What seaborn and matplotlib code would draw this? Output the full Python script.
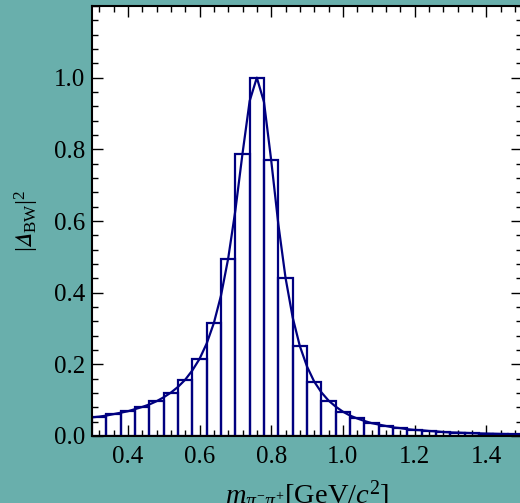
import numpy as np
import pandas as pd
import matplotlib
matplotlib.use("Agg")
import matplotlib.pyplot as plt
from matplotlib.ticker import MultipleLocator
import seaborn as sns

# histogram bins (GeV/c^2) and bar heights
bin_edges = [round(0.30 + 0.04 * i, 2) for i in range(31)]
bar_heights = [0.054, 0.061, 0.069, 0.081, 0.097, 0.121, 0.157, 0.215, 0.315, 0.495,
               0.788, 1.000, 0.770, 0.442, 0.251, 0.152, 0.099, 0.068, 0.049, 0.036,
               0.028, 0.022, 0.017, 0.014, 0.011, 0.0095, 0.008, 0.0068, 0.0058, 0.005]

# Breit-Wigner curve, sampled every 0.02
curve_mass = [round(0.30 + 0.02 * i, 2) for i in range(61)]
curve_value = [0.052, 0.054, 0.057, 0.061, 0.065, 0.069, 0.075, 0.081, 0.088, 0.097,
               0.108, 0.121, 0.137, 0.157, 0.183, 0.215, 0.258, 0.315, 0.392, 0.495,
               0.629, 0.788, 0.935, 1.000, 0.932, 0.770, 0.591, 0.442, 0.331, 0.251,
               0.194, 0.152, 0.122, 0.099, 0.082, 0.068, 0.057, 0.049, 0.042, 0.036,
               0.032, 0.028, 0.024, 0.022, 0.019, 0.017, 0.016, 0.014, 0.013, 0.011,
               0.010, 0.0095, 0.0087, 0.008, 0.0073, 0.0068, 0.0063, 0.0058, 0.0054, 0.005,
               0.0046]

centers = [(a + b) / 2 for a, b in zip(bin_edges[:-1], bin_edges[1:])]
bars = pd.DataFrame({"m": centers, "h": bar_heights})
curve = pd.DataFrame({"m": curve_mass, "v": curve_value})

sns.set_style("ticks")
plt.rcParams["font.family"] = ["Liberation Serif", "DejaVu Serif"]
plt.rcParams["mathtext.fontset"] = "custom"
plt.rcParams["mathtext.rm"] = "Liberation Serif"
plt.rcParams["mathtext.it"] = "Liberation Serif:italic"
plt.rcParams["mathtext.bf"] = "Liberation Serif:bold"
plt.rcParams["mathtext.fallback"] = "stix"
plt.rcParams["text.color"] = "black"
plt.rcParams["axes.labelcolor"] = "black"
plt.rcParams["xtick.color"] = "black"
plt.rcParams["ytick.color"] = "black"

navy = "#000080"
fig = plt.figure(figsize=(5.2, 5.03), dpi=100, facecolor="#69afac")
ax = fig.add_axes([92 / 520, 67 / 503, 430 / 520, 430 / 503])
ax.set_facecolor("white")

sns.histplot(data=bars, x="m", weights="h", bins=bin_edges, fill=False,
             element="bars", color=navy, linewidth=1.6, ax=ax)
sns.lineplot(data=curve, x="m", y="v", color=navy, linewidth=1.6, ax=ax)

ax.set_xlim(0.3, 1.5)
ax.set_ylim(0, 1.2)
ax.set_yticks([0.0, 0.2, 0.4, 0.6, 0.8, 1.0])
ax.set_xticks([0.4, 0.6, 0.8, 1.0, 1.2, 1.4])
ax.xaxis.set_minor_locator(MultipleLocator(0.04))
ax.yaxis.set_minor_locator(MultipleLocator(0.04))
ax.tick_params(which="both", direction="in", top=True, right=True,
               labelsize=18, width=1.0, color="black", labelcolor="black")
ax.tick_params(which="major", length=8)
ax.tick_params(which="minor", length=4)
ax.tick_params(axis="x", which="major", pad=7)
ax.tick_params(axis="y", which="major", pad=5)
for s in ax.spines.values():
    s.set_linewidth(1.5)
    s.set_color("black")

ax.set_xlabel(r"$m_{\pi^{-}\pi^{+}}[\mathrm{GeV}/c^{2}]$", fontsize=20.5, labelpad=8)
ax.set_ylabel("$|𝛥_{\\mathrm{BW}}|^{2}$", fontsize=17.5, labelpad=9)

fig.savefig("out.png", dpi=100, facecolor=fig.get_facecolor())
